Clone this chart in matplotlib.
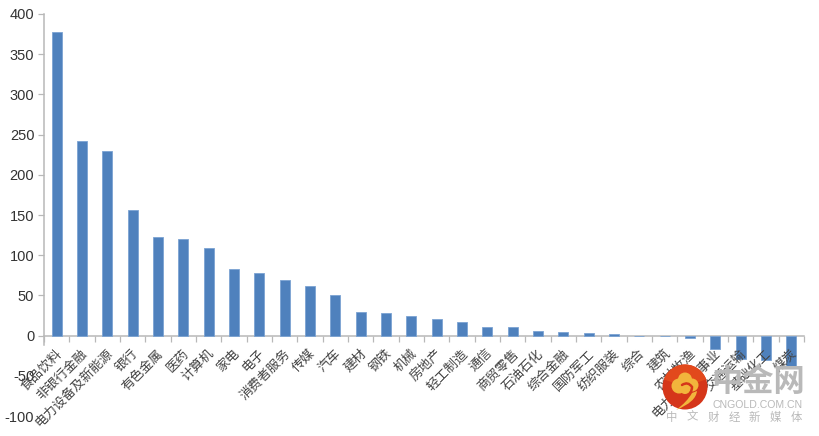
import matplotlib
matplotlib.use("Agg")
import matplotlib.pyplot as plt
from matplotlib.patches import Circle, PathPatch, Wedge
from matplotlib.path import Path

categories = ["食品饮料", "非银行金融", "电力设备及新能源", "银行", "有色金属", "医药", "计算机", "家电",
              "电子", "消费者服务", "传媒", "汽车", "建材", "钢铁", "机械", "房地产", "轻工制造", "通信",
              "商贸零售", "石油石化", "综合金融", "国防军工", "纺织服装", "综合", "建筑", "农林牧渔",
              "电力及公用事业", "交通运输", "基础化工", "煤炭"]
values = [378, 242, 230, 156, 123, 120, 109, 83, 78, 69, 62, 51, 29, 28, 24, 21, 17, 11, 11, 6, 5, 3,
          2, -1, -1, -3, -17, -29, -30, -39]
yticks = [-100, -50, 0, 50, 100, 150, 200, 250, 300, 350, 400]

W, H = 819, 436
fig = plt.figure(figsize=(W / 100, H / 100), dpi=100)
ax = fig.add_axes([44 / W, 1 - 416 / H, (804 - 44) / W, (416 - 14) / H])
GREY = "#b8b8b8"
x = list(range(len(categories)))
ax.bar(x, values, width=0.39, color="#4f81bd", edgecolor="#7ba3d3", linewidth=0.6, zorder=3)
ax.set_xlim(-0.5, len(categories) - 0.5)
ax.set_ylim(-100, 400)
ax.set_yticks(yticks)
ax.set_yticklabels([str(v) for v in yticks], family=["Liberation Sans"], fontsize=10.5, color="#333333")
for s in ("top", "right"):
    ax.spines[s].set_visible(False)
ax.spines["left"].set_color(GREY)
ax.spines["left"].set_linewidth(1.1)
ax.spines["left"].set_bounds(-12, 400)
ax.spines["bottom"].set_position(("data", 0))
ax.spines["bottom"].set_color(GREY)
ax.spines["bottom"].set_linewidth(1.1)
ax.tick_params(axis="y", length=4, width=0.9, color=GREY, pad=3)
for tick, v in zip(ax.yaxis.get_major_ticks(), yticks):
    if v < 0:
        tick.tick1line.set_visible(False)
ax.set_xticks([i - 0.5 for i in x] + [len(x) - 0.5])
ax.set_xticklabels([])
ax.tick_params(axis="x", length=4, width=0.9, color=GREY)

for i, name in zip(x, categories):
    ax.annotate(name, xy=(i, 0), xycoords="data", xytext=(2.5, -11.5), textcoords="offset points",
                rotation=45, rotation_mode="anchor", ha="right", va="center",
                family=["Noto Sans CJK SC", "DejaVu Sans"], fontsize=9.4, color="#444444", zorder=4)

# watermark
ov = fig.add_axes([0, 0, 1, 1], zorder=10)
ov.set_xlim(0, W)
ov.set_ylim(H, 0)
ov.axis("off")
ov.patch.set_alpha(0)
ov.add_patch(Circle((685, 387), 22.5, color="#d5361a", lw=0))
ov.add_patch(Wedge((685, 387), 22.5, 200, 340, color="#e2491c", lw=0))
GOLD = "#f2b53c"
for c, r in (((679, 386), 7.5), ((685, 379.5), 7), ((692, 385), 6.5), ((685, 388), 6)):
    ov.add_patch(Circle(c, r, color=GOLD, lw=0))
swirl = Path([(682, 385), (688, 381), (692, 387), (692, 393), (686, 397)],
             [Path.MOVETO, Path.CURVE3, Path.CURVE3, Path.CURVE3, Path.CURVE3])
ov.add_patch(PathPatch(swirl, facecolor="none", edgecolor="#d5361a", lw=1.8, capstyle="round"))
tail = Path([(697, 391), (696, 402), (676, 410), (687, 402), (692, 393), (697, 391)],
            [Path.MOVETO, Path.CURVE3, Path.CURVE3, Path.CURVE3, Path.CURVE3, Path.CLOSEPOLY])
ov.add_patch(PathPatch(tail, facecolor=GOLD, edgecolor="none"))

cjk = ["Noto Sans CJK SC", "DejaVu Sans"]
ov.text(758.5, 382, "中金网", family=cjk, fontsize=22.5, fontweight="bold", color="#b9b9b9", ha="center", va="center")
ov.text(758, 404.5, "CNGOLD.COM.CN", family=["Liberation Sans"], fontsize=7.6, color="#b9b9b9", ha="center", va="center")
for k, ch in enumerate("中文财经新媒体"):
    ov.text(671.5 + k * 20.8, 417.5, ch, family=cjk, fontsize=8.2, color="#b9b9b9", ha="center", va="center")

fig.savefig("out.png", dpi=100)
